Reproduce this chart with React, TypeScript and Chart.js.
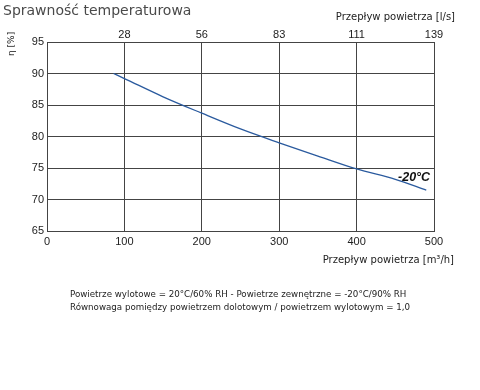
import React, { useEffect, useRef } from "react";
import { Chart, registerables } from "chart.js";

Chart.register(...registerables);

const flowM3h = [86, 100, 150, 200, 250, 300, 350, 400, 450, 490];
const efficiency = [90, 89.2, 86.3, 83.7, 81.2, 79, 76.9, 74.85, 73.2, 71.5];
const xTicks = [0, 100, 200, 300, 400, 500];
const topTickLabels = ["", "28", "56", "83", "111", "139"];
const yTicks = [65, 70, 75, 80, 85, 90, 95];
const seriesLabel = "-20°C";
const titleText = "Sprawność temperaturowa";
const topAxisTitle = "Przepływ powietrza [l/s]";
const bottomAxisTitle = "Przepływ powietrza [m³/h]";
const yAxisTitle = "η [%]";
const footnote1 = "Powietrze wylotowe = 20°C/60% RH - Powietrze zewnętrzne = -20°C/90% RH";
const footnote2 = "Równowaga pomiędzy powietrzem dolotowym / powietrzem wylotowym = 1,0";

const GRID = "#444";
const TICKFONT = "'Liberation Sans', Arial, sans-serif";
const TEXTFONT = "'DejaVu Sans', Verdana, sans-serif";

export default function App() {
  const ref = useRef<HTMLCanvasElement | null>(null);

  useEffect(() => {
    document.body.style.margin = "0";
    const canvas = ref.current;
    if (!canvas) return;

    const labelPlugin = {
      id: "seriesLabel",
      afterDatasetsDraw(chart: any) {
        const ctx = chart.ctx;
        const xs = chart.scales.x;
        const ys = chart.scales.y;
        ctx.save();
        ctx.font = "italic bold 12.5px " + TICKFONT;
        ctx.fillStyle = "#111";
        ctx.textAlign = "right";
        ctx.textBaseline = "middle";
        ctx.fillText(seriesLabel, xs.getPixelForValue(495), ys.getPixelForValue(73.5));
        ctx.restore();
      },
    };

    const chart = new Chart(canvas, {
      type: "scatter",
      data: {
        datasets: [
          {
            label: seriesLabel,
            data: flowM3h.map((x, i) => ({ x, y: efficiency[i] })),
            showLine: true,
            borderColor: "#2a5a9e",
            borderWidth: 1.3,
            pointRadius: 0,
            cubicInterpolationMode: "monotone",
            xAxisID: "x",
            yAxisID: "y",
          },
        ],
      },
      options: {
        animation: false,
        responsive: false,
        layout: { padding: { left: 0, right: 46, top: 0, bottom: 0 } },
        plugins: { legend: { display: false }, tooltip: { enabled: false } },
        scales: {
          x: {
            type: "linear",
            position: "bottom",
            min: 0,
            max: 500,
            afterBuildTicks: (s: any) => {
              s.ticks = xTicks.map((v) => ({ value: v }));
            },
            afterFit: (s: any) => {
              s.height = 159;
            },
            grid: { color: GRID, lineWidth: 1, drawTicks: false },
            border: { color: GRID, width: 1 },
            ticks: {
              color: "#222",
              font: { family: TICKFONT, size: 11 },
              padding: 4,
              maxRotation: 0,
            },
          },
          x2: {
            type: "linear",
            position: "top",
            min: 0,
            max: 500,
            afterBuildTicks: (s: any) => {
              s.ticks = xTicks.map((v) => ({ value: v }));
            },
            afterFit: (s: any) => {
              s.height = 42;
            },
            grid: { display: false, drawTicks: false },
            border: { color: GRID, width: 1 },
            ticks: {
              color: "#222",
              font: { family: TICKFONT, size: 11 },
              padding: 0,
              maxRotation: 0,
              callback: (_v: any, i: number) => topTickLabels[i],
            },
          },
          y: {
            type: "linear",
            min: 65,
            max: 95,
            afterBuildTicks: (s: any) => {
              s.ticks = yTicks.map((v) => ({ value: v }));
            },
            afterFit: (s: any) => {
              s.width = 47;
            },
            grid: { color: GRID, lineWidth: 1, drawTicks: false },
            border: { color: GRID, width: 1 },
            ticks: {
              color: "#222",
              font: { family: TICKFONT, size: 11 },
              padding: 3,
            },
          },
          y2: {
            type: "linear",
            position: "right",
            min: 65,
            max: 95,
            afterFit: (s: any) => {
              s.width = 0;
            },
            grid: { display: false, drawTicks: false },
            border: { color: GRID, width: 1 },
            ticks: { display: false },
          },
        },
      },
      plugins: [labelPlugin],
    } as any);

    return () => chart.destroy();
  }, []);

  const small: React.CSSProperties = {
    position: "absolute",
    fontFamily: TEXTFONT,
    fontSize: "8.7px",
    color: "#222",
    whiteSpace: "nowrap",
    lineHeight: "13px",
  };

  return (
    <div style={{ position: "relative", width: 480, height: 390, background: "#fff" }}>
      <canvas ref={ref} width={480} height={390} style={{ position: "absolute", left: 0, top: 0 }} />
      <div
        style={{
          position: "absolute",
          left: 3,
          top: 0,
          fontFamily: TEXTFONT,
          fontSize: "14px",
          color: "#4a4a4a",
          whiteSpace: "nowrap",
          lineHeight: "20px",
        }}
      >
        {titleText}
      </div>
      <div style={{ ...small, fontSize: "10px", right: 25, top: 10 }}>{topAxisTitle}</div>
      <div style={{ ...small, fontSize: "10px", right: 26, top: 253 }}>{bottomAxisTitle}</div>
      <div
        style={{
          ...small,
          fontSize: "9px",
          left: 5,
          top: 56,
          transform: "rotate(-90deg)",
          transformOrigin: "0 0",
        }}
      >
        {yAxisTitle}
      </div>
      <div style={{ ...small, left: 70, top: 288 }}>
        {footnote1}
        <br />
        {footnote2}
      </div>
    </div>
  );
}
